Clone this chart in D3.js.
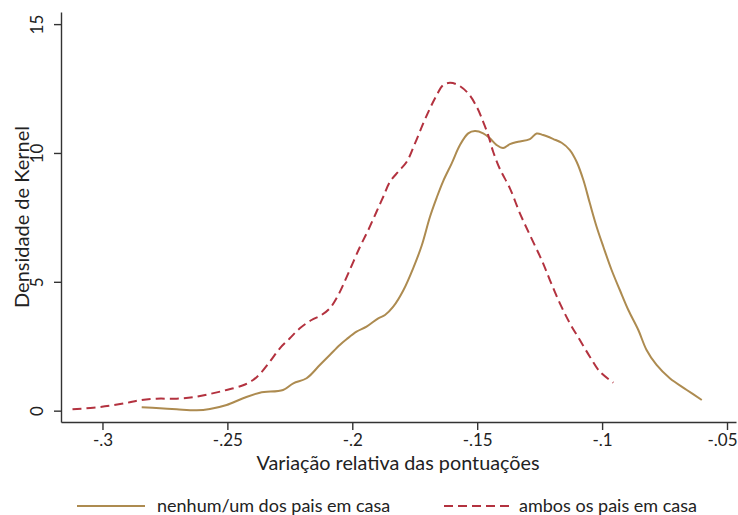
<!DOCTYPE html>
<html>
<head>
<meta charset="utf-8">
<script src="https://cdn.jsdelivr.net/npm/d3@7"></script>
<style>
  html, body { margin: 0; padding: 0; background: #fff; }
  svg text { font-family: Lato, "Open Sans", sans-serif; fill: #222; }
</style>
</head>
<body>
<svg id="chart" width="738" height="515"></svg>
<script>
// Kernel density estimates of the relative score change, by parental presence at home
const seriesNames = ["nenhum/um dos pais em casa", "ambos os pais em casa"];

// nenhum/um dos pais em casa
const noneX = [-0.2843,-0.2770,-0.2703,-0.2623,-0.2570,-0.2503,-0.2437,-0.2370,-0.2277,-0.2236,-0.2183,-0.2130,-0.2090,-0.2050,-0.2023,-0.1983,-0.1943,-0.1896,-0.1869,-0.1836,-0.1796,-0.1756,-0.1722,-0.1689,-0.1662,-0.1636,-0.1602,-0.1569,-0.1536,-0.1509,-0.1476,-0.1449,-0.1422,-0.1396,-0.1369,-0.1336,-0.1289,-0.1262,-0.1236,-0.1195,-0.1162,-0.1129,-0.1102,-0.1075,-0.1049,-0.1022,-0.0995,-0.0962,-0.0929,-0.0895,-0.0855,-0.0822,-0.0782,-0.0729,-0.0661,-0.0601];
const noneY = [0.132,0.093,0.054,0.016,0.066,0.221,0.481,0.698,0.803,1.063,1.257,1.773,2.161,2.549,2.770,3.064,3.258,3.584,3.712,4.034,4.663,5.535,6.408,7.525,8.270,8.910,9.597,10.306,10.760,10.850,10.760,10.566,10.306,10.190,10.345,10.434,10.539,10.753,10.694,10.539,10.396,10.113,9.659,8.949,8.045,7.137,6.361,5.458,4.682,3.906,3.130,2.355,1.773,1.257,0.803,0.415];

// ambos os pais em casa
const bothX = [-0.3120,-0.3037,-0.2970,-0.2904,-0.2850,-0.2783,-0.2703,-0.2637,-0.2570,-0.2503,-0.2437,-0.2397,-0.2370,-0.2330,-0.2290,-0.2250,-0.2210,-0.2163,-0.2123,-0.2090,-0.2056,-0.2016,-0.1969,-0.1936,-0.1903,-0.1876,-0.1849,-0.1816,-0.1782,-0.1749,-0.1716,-0.1689,-0.1662,-0.1636,-0.1609,-0.1576,-0.1536,-0.1502,-0.1476,-0.1456,-0.1436,-0.1409,-0.1369,-0.1329,-0.1289,-0.1242,-0.1209,-0.1169,-0.1129,-0.1089,-0.1049,-0.1009,-0.0955];
const bothY = [0.054,0.116,0.194,0.299,0.403,0.465,0.465,0.520,0.648,0.803,0.985,1.191,1.424,1.901,2.420,2.808,3.196,3.518,3.712,3.972,4.488,5.330,6.362,7.009,7.719,8.301,8.883,9.271,9.659,10.372,11.148,11.730,12.246,12.634,12.723,12.634,12.312,11.792,11.210,10.694,10.047,9.376,8.627,7.657,6.815,5.846,5.070,4.166,3.390,2.739,2.095,1.513,1.086];

const xTicks = [-0.3, -0.25, -0.2, -0.15, -0.1, -0.05];
const xTickLabels = ["-.3", "-.25", "-.2", "-.15", "-.1", "-.05"];
const yTicks = [0, 5, 10, 15];
const xTitle = "Variação relativa das pontuações";
const yTitle = "Densidade de Kernel";

const colors = ["#ad8b50", "#b3323f"];

const svg = d3.select("#chart");
const W = 738;

const x = d3.scaleLinear().domain([-0.3166, -0.0464]).range([61, 736]);
const y = d3.scaleLinear().domain([-0.44, 15.47]).range([422, 12]);

// x axis
const xAxis = d3.axisBottom(x)
  .tickValues(xTicks)
  .tickFormat((d, i) => xTickLabels[i])
  .tickSize(8)
  .tickPadding(4)
  .tickSizeOuter(0);
const gx = svg.append("g").attr("transform", "translate(0,422)").call(xAxis);
gx.select(".domain").attr("stroke", "#333").attr("stroke-width", 1.4);
gx.selectAll(".tick line").attr("stroke", "#333").attr("stroke-width", 1.4);
gx.selectAll(".tick text").style("font-size", "17px").attr("fill", "#222");
// keep the rightmost tick label inside the canvas
gx.selectAll(".tick").each(function (d) {
  const t = d3.select(this).select("text");
  const w = t.node().getComputedTextLength();
  const over = x(d) + w / 2 - (W - 1);
  if (over > 0) t.attr("x", -over);
});

// y axis
const yAxis = d3.axisLeft(y)
  .tickValues(yTicks)
  .tickSize(7)
  .tickSizeOuter(0);
const gy = svg.append("g").attr("transform", "translate(61,0)").call(yAxis);
gy.select(".domain").attr("stroke", "#333").attr("stroke-width", 1.4);
gy.selectAll(".tick line").attr("stroke", "#333").attr("stroke-width", 1.4);
gy.selectAll(".tick text")
  .style("font-size", "17px")
  .attr("fill", "#222")
  .attr("x", null).attr("dy", null)
  .attr("text-anchor", "middle")
  .attr("transform", "translate(-18,0) rotate(-90)");

// axis titles
svg.append("text")
  .attr("x", 398).attr("y", 470)
  .attr("text-anchor", "middle")
  .style("font-size", "19.8px")
  .text(xTitle);

svg.append("text")
  .attr("transform", "translate(29,217) rotate(-90)")
  .attr("text-anchor", "middle")
  .style("font-size", "20px")
  .text(yTitle);

// density curves
const line = d3.line()
  .x(d => x(d[0]))
  .y(d => y(d[1]))
  .curve(d3.curveCatmullRom.alpha(0.5));

const series = [
  { name: seriesNames[0], pts: d3.zip(noneX, noneY), color: colors[0], dash: null },
  { name: seriesNames[1], pts: d3.zip(bothX, bothY), color: colors[1], dash: "9,5" }
];

svg.append("g").selectAll("path")
  .data(series)
  .join("path")
  .attr("d", d => line(d.pts))
  .attr("fill", "none")
  .attr("stroke", d => d.color)
  .attr("stroke-width", 2)
  .attr("stroke-dasharray", d => d.dash);

// legend
const legendItems = [
  { x0: 77, x1: 145, tx: 157 },
  { x0: 444, x1: 509, tx: 519 }
];
const lg = svg.append("g");
series.forEach((s, i) => {
  const it = legendItems[i];
  lg.append("line")
    .attr("x1", it.x0).attr("x2", it.x1)
    .attr("y1", 506).attr("y2", 506)
    .attr("stroke", s.color)
    .attr("stroke-width", 2)
    .attr("stroke-dasharray", s.dash);
  lg.append("text")
    .attr("x", it.tx).attr("y", 512)
    .style("font-size", "18px")
    .text(s.name);
});
</script>
</body>
</html>
